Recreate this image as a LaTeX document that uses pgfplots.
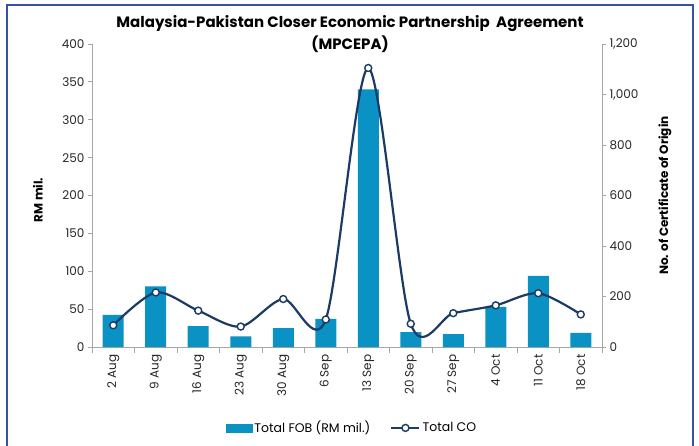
\documentclass[border=0pt]{standalone}
\usepackage{fontspec}
\setmainfont{Poppins}
\usepackage{pgfplots}
\pgfplotsset{compat=1.18}
\definecolor{barcol}{HTML}{0A92C4}
\definecolor{linecol}{HTML}{1C3A66}
\definecolor{framecol}{HTML}{3352A8}
\definecolor{axcol}{HTML}{A6A6A6}
\pgfplotsset{colegend/.style={legend image code/.code={\draw[mark repeat=2,mark phase=2,##1] plot coordinates {(0pt,0pt) (14pt,0pt) (28pt,0pt)};}}}
\begin{document}
\begin{tikzpicture}
\pgfplotsset{
 common/.style={
  width=510pt, height=303pt, scale only axis,
  xmin=-0.5, xmax=11.5,
  axis line style={draw=axcol, line width=0.8pt},
  /pgf/number format/assume math mode=true,
  tick label style={font=\fontsize{12}{14}\selectfont, text=black!85},
  major tick length=4pt,
  minor tick length=6pt,
  tick style={draw=axcol, line width=0.8pt},
 }
}
\begin{axis}[common,
  ymin=0, ymax=400, ytick={0,50,...,400},
  axis y line*=left, axis x line*=bottom,
  xtick={0,...,11},
  xticklabels={2 Aug, 9 Aug, 16 Aug, 23 Aug, 30 Aug, 6 Sep, 13 Sep, 20 Sep, 27 Sep, 4 Oct, 11 Oct, 18 Oct},
  x tick label style={rotate=90, anchor=east},
  major x tick style={draw=none},
  minor xtick={-0.5,0.5,...,11.5},
  xtick align=outside, ytick align=outside,
  ylabel={RM mil.},
  every axis y label/.style={at={(axis description cs:-0.106,0.485)}, rotate=90, anchor=center, font=\bfseries\fontsize{12}{14}\selectfont},
  title={Malaysia-Pakistan Closer Economic Partnership\ \ Agreement\\(MPCEPA)},
  title style={at={(axis description cs:0.506,1)}, anchor=center, yshift=4pt, align=center, font=\bfseries\fontsize{15}{22}\selectfont},
]
\addplot[ybar, bar width=21pt, fill=barcol, draw=none] coordinates {
(0,42.5) (1,80) (2,27.5) (3,14) (4,25) (5,37) (6,340) (7,19.5) (8,17) (9,53) (10,94) (11,18.5)};
\end{axis}
\begin{axis}[common,
  ymin=0, ymax=1200, ytick={0,200,...,1200},
  axis y line*=right, axis x line=none,
  ytick align=outside,
  yticklabel style={/pgf/number format/1000 sep={,}},
  ylabel={No. of Certificate of Origin},
  every axis y label/.style={at={(axis description cs:1.1235,0.50)}, rotate=90, anchor=center, font=\bfseries\fontsize{12}{14}\selectfont},
  legend style={at={(axis description cs:0.51,-0.267)}, anchor=center, legend columns=2, draw=none, fill=none,
    font=\fontsize{12.5}{14}\selectfont, /tikz/every even column/.append style={column sep=18pt},
    /tikz/every odd column/.append style={inner xsep=1pt}},
]
\addlegendimage{legend image code/.code={\fill[barcol] (0pt,-4pt) rectangle (26pt,4pt);}}
\addlegendentry{Total FOB (RM mil.)}
\addplot[linecol, line width=2.2pt, smooth, tension=0.5, mark=*, mark size=3.5pt,
  mark options={fill=white, draw=linecol, line width=1.4pt}, colegend]
 coordinates {
(0,86) (1,216) (2,144) (3,81) (4,190) (5,109) (6,1105) (7,92) (8,134) (9,165) (10,213) (11,129)};
\addlegendentry{Total CO}
\end{axis}
\draw[framecol, line width=2.8pt] (-85pt,-130pt) -- (-85pt,342pt) -- (601pt,342pt) -- (601pt,-130pt);
\pgfresetboundingbox
\path[use as bounding box] (-92pt,-98pt) rectangle (607pt,347pt);
\end{tikzpicture}
\end{document}
